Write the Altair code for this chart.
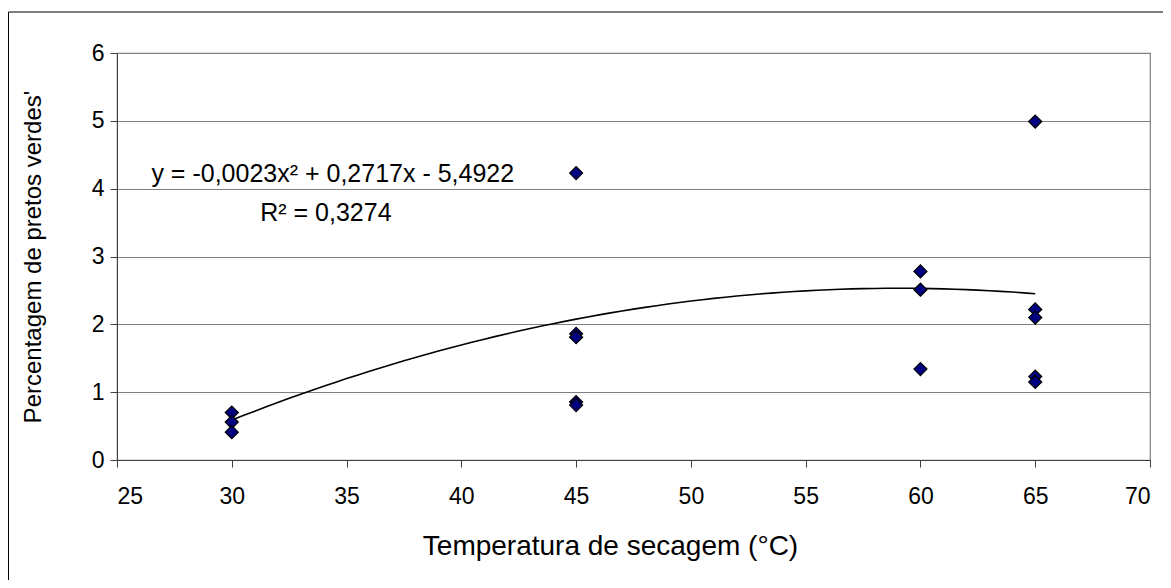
import altair as alt
import pandas as pd

temps = [30, 30, 30, 45, 45, 45, 45, 45, 60, 60, 60, 65, 65, 65, 65, 65]
values = [0.70, 0.56, 0.41, 4.23, 1.86, 1.81, 0.855, 0.81, 2.78, 2.51, 1.34, 4.99, 2.22, 2.10, 1.23, 1.15]

# trendline coefficients as printed on the chart (c2, c1, c0)
coef = [-0.0023, 0.2717, -5.4922]
trend_range = [30, 65]

eq_text = ["y = -0,0023x² + 0,2717x - 5,4922", "R² = 0,3274"]
eq_x = [34.4, 34.1]
eq_y = [4.22, 3.64]

df = pd.DataFrame({"temp": temps, "val": values})
ann = pd.DataFrame({"t": eq_text, "x": eq_x, "y": eq_y})

FONT = "Liberation Sans"

xscale = alt.Scale(domain=[25, 70], nice=False, zero=False)
yscale = alt.Scale(domain=[0, 6], nice=False)

border = alt.Chart(pd.DataFrame({"a": [0]})).mark_rect(
    fill=None, stroke="#000000", strokeWidth=1
).encode(x=alt.value(-108.5), x2=alt.value(1080), y=alt.value(-41), y2=alt.value(560))

points = alt.Chart(df).mark_point(
    shape="diamond", filled=True, fill="#000080", stroke="#000000",
    strokeWidth=1.2, size=170, opacity=1
).encode(
    x=alt.X("temp:Q", scale=xscale,
            axis=alt.Axis(title="Temperatura de secagem (°C)", values=list(range(25, 71, 5)),
                          format="d", grid=False, tickSize=7, tickColor="#404040",
                          domainColor="#404040", labelFontSize=23, titleFontSize=28,
                          labelFont=FONT, titleFont=FONT, labelColor="#000000",
                          titleColor="#000000", titleFontWeight="normal",
                          labelPadding=18, titlePadding=24, titleX=493)),
    y=alt.Y("val:Q", scale=yscale,
            axis=alt.Axis(title="Percentagem de pretos verdes'", values=list(range(0, 7)),
                          format="d", grid=True, gridColor="#808080", gridWidth=1.2,
                          tickSize=7, tickColor="#404040", domainColor="#404040",
                          labelFontSize=23, titleFontSize=24, labelFont=FONT,
                          titleFont=FONT, labelColor="#000000", titleColor="#000000",
                          titleFontWeight="normal", labelPadding=6, titlePadding=46)),
)

trend = alt.Chart(alt.sequence(trend_range[0], trend_range[1] + 0.01, 0.5, as_="temp")).transform_calculate(
    val=f"{coef[0]}*datum.temp*datum.temp + {coef[1]}*datum.temp + {coef[2]}"
).mark_line(color="#000000", strokeWidth=1.6).encode(
    x=alt.X("temp:Q", scale=xscale),
    y=alt.Y("val:Q", scale=yscale),
)

labels = alt.Chart(ann).mark_text(
    font=FONT, fontSize=25, color="#000000", align="center", baseline="middle"
).encode(
    x=alt.X("x:Q", scale=xscale),
    y=alt.Y("y:Q", scale=yscale),
    text="t:N",
)

chart = alt.layer(border, trend, points, labels).properties(
    width=1033, height=407,
    autosize=alt.AutoSizeParams(type="none"),
    padding={"left": 109, "top": 45, "right": 13, "bottom": 120},
    background="white",
).configure_view(stroke="#808080", strokeWidth=1.2)

chart.save("out.html", embed_options={"renderer": "svg", "actions": False})
